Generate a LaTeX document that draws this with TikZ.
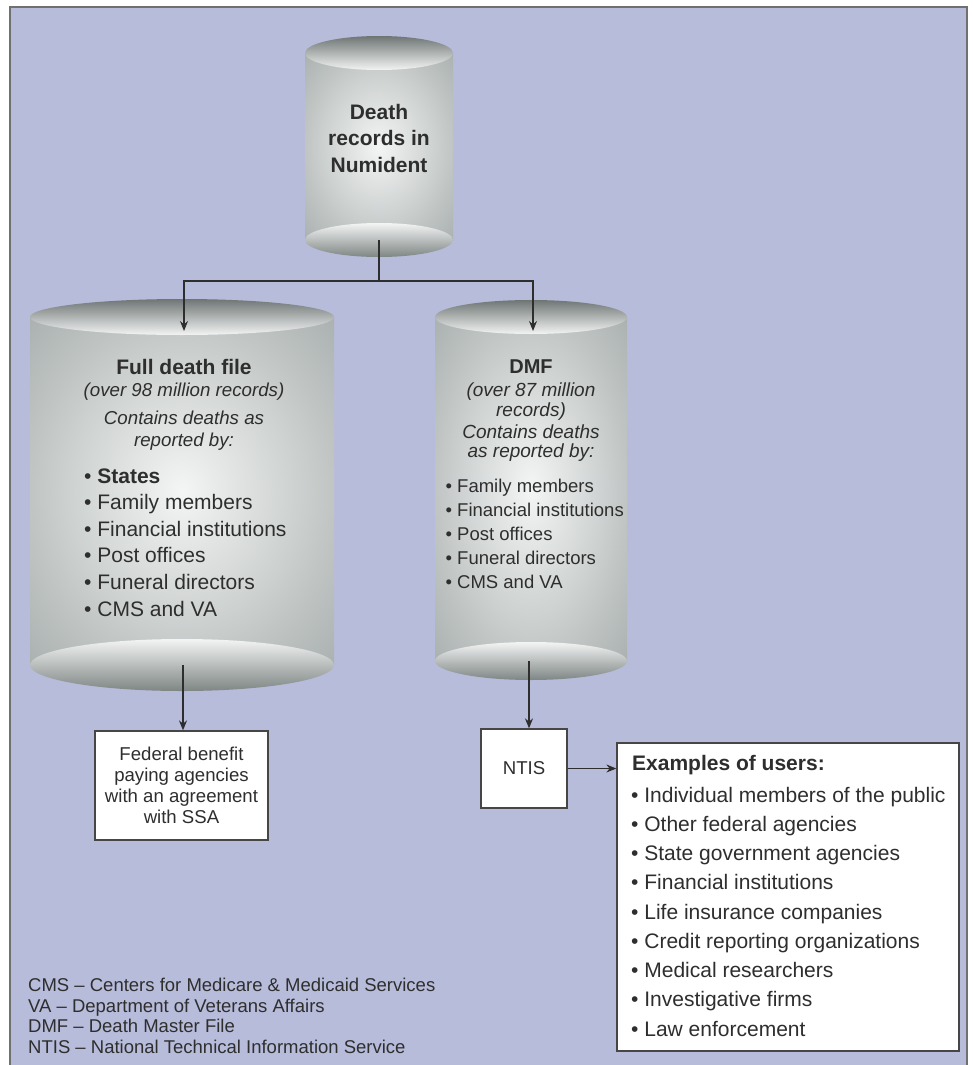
\documentclass[tikz,border=0pt]{standalone}
\usepackage{fontspec}
\setmainfont{Liberation Sans}
\usetikzlibrary{arrows.meta}
\definecolor{bg}{HTML}{B8BCDB}
\definecolor{framec}{HTML}{6F7070}
\definecolor{txt}{HTML}{2E2E2E}
\definecolor{boxline}{HTML}{464646}
\definecolor{cylin}{HTML}{F4F5F5}
\definecolor{cylout}{HTML}{8C9593}
\definecolor{captop}{HTML}{6E7674}
\definecolor{caplight}{HTML}{F3F4F4}
\definecolor{capbot}{HTML}{7E8684}
\pgfdeclareradialshading{cylshade}{\pgfpoint{0bp}{0bp}}{color(0bp)=(cylin); color(50bp)=(cylout)}
\newcommand{\myfs}[2]{\fontsize{#1pt}{#2pt}\selectfont}
% cx, rx, top y, top ry, bottom y, bottom ry
\newcommand{\drawcyl}[6]{%
  \shade[shading=cylshade] (#1-#2,#3) rectangle (#1+#2,#5);
  \shade[top color=caplight, bottom color=capbot] (#1,#5) ellipse [x radius=#2pt, y radius=#6pt];
  \shade[top color=captop, bottom color=caplight] (#1,#3) ellipse [x radius=#2pt, y radius=#4pt];
}
\tikzset{
  t/.style={text=txt, inner sep=0pt, anchor=base},
  tl/.style={text=txt, inner sep=0pt, anchor=base west},
  box/.style={draw=boxline, line width=1.3pt, fill=white, text=txt, inner sep=0pt, align=center},
  conn/.style={draw=txt, line width=1.3pt},
  arr/.style={conn, -{Stealth[length=10pt, width=8pt]}},
}
\begin{document}
\begin{tikzpicture}[x=1pt, y=-1pt]
\useasboundingbox (0,0) rectangle (972,1065);
\fill[white] (0,0) rectangle (972,1065);
\draw[framec, line width=1.5pt, fill=bg] (10,7) rectangle (967,1075);

% cylinders
\drawcyl{379}{74}{53}{17}{240}{17}
\drawcyl{182}{152}{317}{18}{665}{26}
\drawcyl{531}{96}{317}{17}{661}{19}

% top cylinder text
\node[t, font=\myfs{21}{25}\bfseries] (num1) at (379,119) {Death};
\node[t, font=\myfs{21}{25}\bfseries] (num2) at (379,145.5) {records in};
\node[t, font=\myfs{21}{25}\bfseries] (num3) at (379,172) {Numident};

% full death file text
\node[t, font=\myfs{21}{25}\bfseries] (fullT) at (184,374) {Full death file};
\node[t, font=\myfs{18.7}{22}\itshape] (fullA) at (184,396) {(over 98 million records)};
\node[t, font=\myfs{18.7}{22}\itshape] (fullB) at (184,424) {Contains deaths as};
\node[t, font=\myfs{18.7}{22}\itshape] (fullC) at (184,446.7) {reported by:};
\node[tl, font=\myfs{21}{25}] (fl1) at (84,483) {\textbullet\ \textbf{States}};
\node[tl, font=\myfs{21}{25}] (fl2) at (84,509.6) {\textbullet\ Family members};
\node[tl, font=\myfs{21}{25}] (fl3) at (84,536.2) {\textbullet\ Financial institutions};
\node[tl, font=\myfs{21}{25}] (fl4) at (84,562.8) {\textbullet\ Post offices};
\node[tl, font=\myfs{21}{25}] (fl5) at (84,589.4) {\textbullet\ Funeral directors};
\node[tl, font=\myfs{21}{25}] (fl6) at (84,616) {\textbullet\ CMS and VA};

% DMF text
\node[t, font=\myfs{20}{25}\bfseries] (dmfT) at (531,373) {DMF};
\node[t, font=\myfs{19}{22}\itshape] (dmfA) at (531,396) {(over 87 million};
\node[t, font=\myfs{19}{22}\itshape] (dmfB) at (531,416) {records)};
\node[t, font=\myfs{19}{22}\itshape] (dmfC) at (531,438) {Contains deaths};
\node[t, font=\myfs{19}{22}\itshape] (dmfD) at (531,457) {as reported by:};
\node[tl, font=\myfs{18.5}{22}] (dl1) at (445.4,492) {\textbullet\ Family members};
\node[tl, font=\myfs{18.5}{22}] (dl2) at (445.4,516) {\textbullet\ Financial institutions};
\node[tl, font=\myfs{18.5}{22}] (dl3) at (445.4,540) {\textbullet\ Post offices};
\node[tl, font=\myfs{18.5}{22}] (dl4) at (445.4,564) {\textbullet\ Funeral directors};
\node[tl, font=\myfs{18.5}{22}] (dl5) at (445.4,588) {\textbullet\ CMS and VA};

% boxes
\node[box, minimum width=173pt, minimum height=109pt, font=\myfs{18.6}{21}] (fed) at (181.5,785.5)
  {Federal benefit\\paying agencies\\with an agreement\\with SSA};
\node[box, minimum width=86pt, minimum height=79pt, font=\myfs{18.6}{21}] (ntis) at (524,768.5) {NTIS};
\node[box, minimum width=342pt, minimum height=308pt] (users) at (788,897) {};

\node[tl, font=\myfs{21}{25}\bfseries] (uT) at (632,770) {Examples of users:};
\foreach \s [count=\i from 0] in {Individual members of the public, Other federal agencies,
  State government agencies, Financial institutions, Life insurance companies,
  Credit reporting organizations, Medical researchers, Investigative firms, Law enforcement}
  \node[tl, font=\myfs{21}{25}] (u\i) at (631,802+29.25*\i) {\textbullet\ \s};

% connectors
\coordinate (numbot) at (379,240);
\coordinate (split) at (379,281);
\coordinate (fullin) at (184,331);
\coordinate (dmfin) at (533,331);
\coordinate (fullbot) at (183,665);
\coordinate (dmfbot) at (529,661);
\draw[arr] (numbot) |- (fullin |- split) -- (fullin);
\draw[arr] (split) -| (dmfin);
\draw[arr] (fullbot) -- (fullbot |- fed.north);
\draw[arr] (dmfbot) -- (dmfbot |- ntis.north);
\draw[arr] (ntis.east) -- (users.west |- ntis.east);

% footnotes
\node[tl, font=\myfs{18.5}{21}] (n1) at (28,991) {CMS – Centers for Medicare \& Medicaid Services};
\node[tl, font=\myfs{18.5}{21}] (n2) at (28,1012) {VA – Department of Veterans Affairs};
\node[tl, font=\myfs{18.5}{21}] (n3) at (28,1032.5) {DMF – Death Master File};
\node[tl, font=\myfs{18.5}{21}] (n4) at (28,1053) {NTIS – National Technical Information Service};
\end{tikzpicture}
\end{document}
